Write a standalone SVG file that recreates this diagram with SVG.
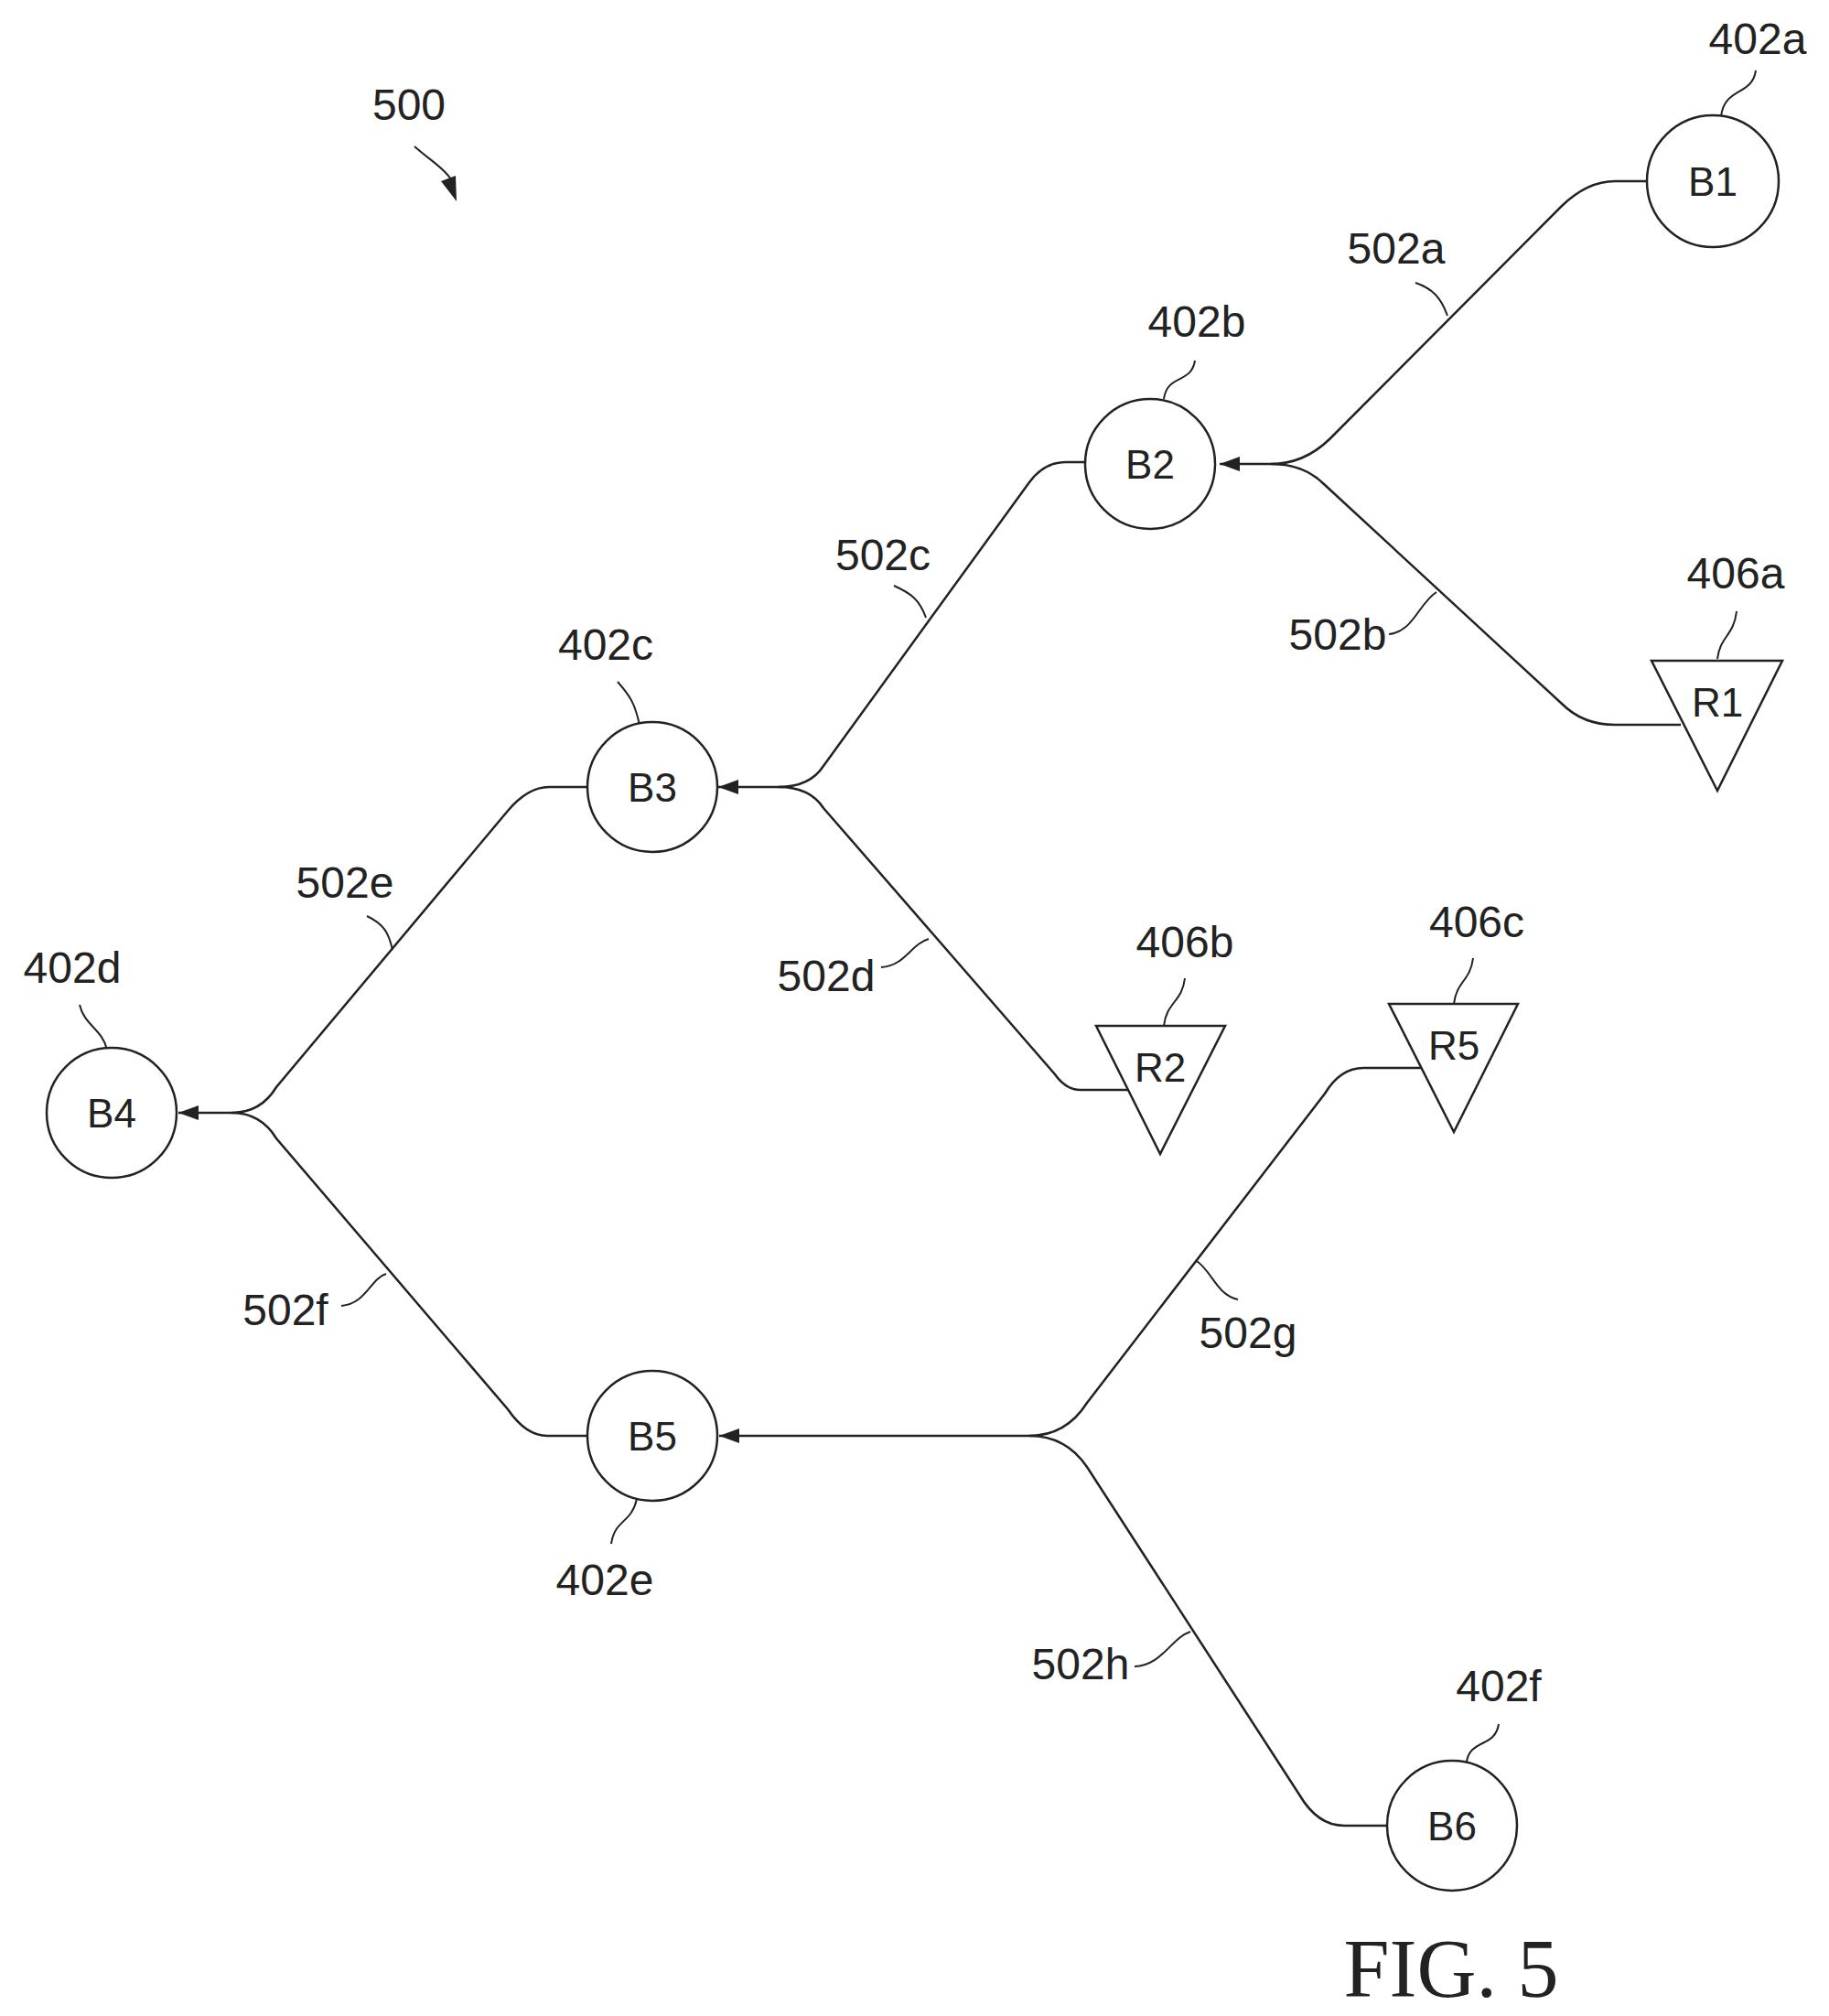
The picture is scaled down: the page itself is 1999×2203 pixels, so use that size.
<svg xmlns="http://www.w3.org/2000/svg" width="1999" height="2203" viewBox="0 0 1999 2203">
<style>
.n{fill:#fff;stroke:#222;stroke-width:2.5}
.c{fill:none;stroke:#222;stroke-width:2.5}
.l{fill:none;stroke:#222;stroke-width:2}
text{font-family:"Liberation Sans",Arial,sans-serif;fill:#222}
.t{font-size:44px;text-anchor:middle}
.lb{font-size:48px;text-anchor:middle}
</style>
<defs>
<marker id="a" markerWidth="24" markerHeight="16" refX="22" refY="8" orient="auto" markerUnits="userSpaceOnUse"><path d="M0,0 L22,8 L0,16 Z" fill="#222"/></marker>
</defs>
<rect width="1999" height="2203" fill="#fff"/>
<g id="connectors">
<path class="c" d="M1799,198 H1765 Q1735,198 1707,225 L1453,480 Q1425,507 1389,507 H1333" marker-end="url(#a)"/>
<path class="c" d="M1389,507 Q1425,507 1447,529 L1707,769 Q1730,792 1765,792 H1837"/>
<path class="c" d="M1185,505 H1165 Q1141,505 1125,527 L900,837 Q885,860 851,860 H785" marker-end="url(#a)"/>
<path class="c" d="M851,860 Q885,860 900,883 L1153,1174 Q1165,1191 1181,1191 H1233"/>
<path class="c" d="M643,860 H600 Q577,860 555,886 L302,1188 Q285,1216 253,1216 H195" marker-end="url(#a)"/>
<path class="c" d="M253,1216 Q285,1216 302,1244 L555,1540 Q575,1569 598,1569 H642"/>
<path class="c" d="M1553,1167 H1490 Q1465,1167 1448,1195 L1188,1533 Q1165,1569 1125,1569 H786" marker-end="url(#a)"/>
<path class="c" d="M1125,1569 Q1165,1569 1188,1603 L1420,1961 Q1440,1995 1469,1995 H1517"/>
</g>
<g id="leaders">
<path class="l" d="M1919,77 C1915,105 1885,95 1881,127"/>
<path class="l" d="M1306,394 C1302,420 1276,408 1272,436"/>
<path class="l" d="M675,745 C690,762 694,770 699,792"/>
<path class="l" d="M87,1098 C92,1120 112,1125 117,1147"/>
<path class="l" d="M696,1638 C690,1665 672,1660 668,1687"/>
<path class="l" d="M1638,1884 C1634,1910 1607,1900 1603,1925"/>
<path class="l" d="M1898,668 C1895,695 1880,695 1877,720"/>
<path class="l" d="M1295,1069 C1292,1095 1275,1095 1272,1121"/>
<path class="l" d="M1610,1047 C1607,1072 1592,1072 1589,1097"/>
<path class="l" d="M1547,309 C1565,315 1575,325 1582,345"/>
<path class="l" d="M1518,693 C1545,690 1550,660 1570,647"/>
<path class="l" d="M977,640 C995,648 1005,655 1012,675"/>
<path class="l" d="M963,1057 C990,1055 995,1032 1015,1026"/>
<path class="l" d="M401,1001 C420,1010 425,1020 429,1038"/>
<path class="l" d="M373,1427 C400,1425 405,1397 422,1392"/>
<path class="l" d="M1353,1420 C1330,1415 1325,1390 1308,1378"/>
<path class="l" d="M1240,1821 C1270,1820 1280,1790 1301,1783"/>
<path class="l" d="M453,160 C470,175 480,180 490,192 C498,200 490,205 495,210" />
<path d="M482,198 L499,220 L498,192 Z" fill="#222"/>
</g>
<g id="B1"><circle class="n" cx="1872" cy="198" r="72"/><text class="t" x="1872" y="214">B1</text></g>
<g id="B2"><circle class="n" cx="1257" cy="507" r="71"/><text class="t" x="1257" y="523">B2</text></g>
<g id="B3"><circle class="n" cx="713" cy="860" r="71"/><text class="t" x="713" y="876">B3</text></g>
<g id="B4"><circle class="n" cx="122" cy="1216" r="71"/><text class="t" x="122" y="1232">B4</text></g>
<g id="B5"><circle class="n" cx="713" cy="1569" r="71"/><text class="t" x="713" y="1585">B5</text></g>
<g id="B6"><circle class="n" cx="1587" cy="1995" r="71"/><text class="t" x="1587" y="2011">B6</text></g>
<g id="R1"><polygon class="n" points="1805,722 1948,722 1877,864"/><text class="t" x="1877" y="783">R1</text></g>
<g id="R2"><polygon class="n" points="1198,1121 1339,1121 1268,1261"/><text class="t" x="1268" y="1182">R2</text></g>
<g id="R5"><polygon class="n" points="1518,1097 1659,1097 1589,1237"/><text class="t" x="1589" y="1158">R5</text></g>
<g id="labels">
<text class="lb" x="1921" y="59">402a</text>
<text class="lb" x="1308" y="368">402b</text>
<text class="lb" x="662" y="721">402c</text>
<text class="lb" x="79" y="1074">402d</text>
<text class="lb" x="661" y="1743">402e</text>
<text class="lb" x="1638" y="1859">402f</text>
<text class="lb" x="1897" y="643">406a</text>
<text class="lb" x="1295" y="1046">406b</text>
<text class="lb" x="1614" y="1024">406c</text>
<text class="lb" x="447" y="131">500</text>
<text class="lb" x="1526" y="288">502a</text>
<text class="lb" x="1462" y="710">502b</text>
<text class="lb" x="965" y="623">502c</text>
<text class="lb" x="903" y="1083">502d</text>
<text class="lb" x="377" y="981">502e</text>
<text class="lb" x="312" y="1448">502f</text>
<text class="lb" x="1364" y="1473">502g</text>
<text class="lb" x="1181" y="1835">502h</text>
<text x="1586" y="2182" font-size="90" text-anchor="middle" style="font-family:'Liberation Serif',serif">FIG. 5</text>
</g>
</svg>
